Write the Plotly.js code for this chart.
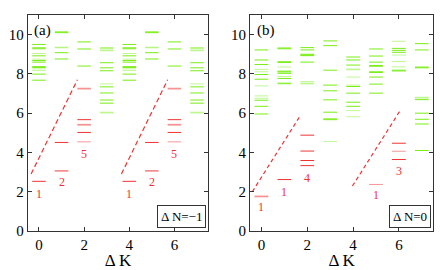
<!DOCTYPE html>
<html><head><meta charset="utf-8">
<script src="https://cdn.plot.ly/plotly-3.0.1.min.js"></script>
<style>html,body{margin:0;padding:0;background:#fff}#chart{width:443px;height:270px}</style>
</head><body><div id="chart"></div>
<script>
// ---------- DATA (index in outer array = ΔK) ----------
const deltaK = [0, 1, 2, 3, 4, 5, 6, 7];
const xTicks = [0, 2, 4, 6];
const yTicks = [0, 2, 4, 6, 8, 10];

// Panel (a): ΔN = -1
const aGreenStrong = [
  [9.50, 9.33, 9.28, 8.92, 8.68, 8.60, 8.37, 8.33, 7.99, 7.68],
  [10.14, 10.10, 9.08, 8.76],
  [9.63, 9.27, 8.40],
  [9.32, 8.57, 8.31, 8.16, 7.34, 7.03, 6.67, 6.51],
  [9.50, 9.33, 9.28, 8.92, 8.68, 8.60, 8.37, 8.33, 7.99, 7.68],
  [10.14, 10.10, 9.08, 8.76],
  [9.63, 9.27, 8.40],
  [9.32, 8.57, 8.31, 8.16, 7.34, 7.03, 6.67, 6.51]
];
const aGreenWeak = [
  [9.04, 8.75, 8.26, 8.17],
  [9.36, 9.33],
  [],
  [9.22, 9.18, 7.49, 6.05, 6.01],
  [9.04, 8.75, 8.26, 8.17],
  [9.36, 9.33],
  [],
  [9.22, 9.18, 7.49, 6.05, 6.01]
];
const aRedStrong = [
  [2.53], [4.51], [5.67, 5.02], [],
  [2.53], [4.51], [5.67, 5.02], []
];
const aRedWeak = [
  [], [3.08, 3.04], [7.27, 7.23, 5.43, 5.39, 4.54], [],
  [], [3.08, 3.04], [7.27, 7.23, 5.43, 5.39, 4.54], []
];
const aDashX = [[-0.35, 1.70], [3.65, 5.70]];
const aDashY = [[2.90, 7.70], [2.90, 7.70]];
const aLabelText = ["1", "2", "5", "1", "2", "5"];
const aLabelK = [0, 1, 2, 4, 5, 6];
const aLabelE = [1.9, 2.5, 3.9, 1.9, 2.5, 3.9];

// Panel (b): ΔN = 0
const bGreenStrong = [
  [9.22, 8.71, 8.48, 7.97, 7.73, 6.66, 6.35, 5.96],
  [9.32, 9.28, 8.62, 8.58, 8.14, 8.10, 8.03, 7.77, 7.50],
  [9.34, 9.22, 9.00, 8.96, 8.93, 8.60],
  [9.68, 9.44, 8.19, 7.43, 7.14, 6.68, 6.05, 5.71, 5.67],
  [8.86, 8.71, 8.45, 7.36, 7.02, 6.56, 6.35],
  [9.27, 8.91, 8.60, 8.43, 8.39, 8.11, 8.07, 7.84, 7.48, 7.02],
  [9.30, 9.20, 9.10, 8.19, 8.15],
  [9.54, 9.22, 8.35, 8.31, 6.69, 6.00, 5.69, 5.45, 4.10]
];
const bGreenWeak = [
  [8.23, 8.11, 7.39, 6.88, 6.76],
  [8.35, 7.87, 7.55],
  [7.61, 7.53, 7.49],
  [4.56],
  [8.25, 8.21, 7.84, 7.43, 6.13, 5.82],
  [],
  [9.66, 8.96, 8.63, 8.36],
  [6.81, 6.77]
];
const bRedStrong = [
  [], [2.62], [4.88, 3.59, 3.33], [],
  [], [], [4.47, 3.64], []
];
const bRedWeak = [
  [1.78, 1.74], [], [4.09, 4.05], [],
  [], [2.37], [4.06], []
];
const bDashX = [[-0.40, 1.72], [3.97, 6.09]];
const bDashY = [[2.00, 5.92], [2.29, 6.20]];
const bLabelText = ["1", "1", "4", "1", "3"];
const bLabelK = [0, 1, 2, 5, 6];
const bLabelE = [1.22, 1.99, 2.7, 1.82, 3.04];

const panelTags = ["(a)", "(b)"];
const boxTexts = ["\u0394 N=\u22121", "\u0394 N=0"];

// ---------- BUILD ----------
const HALF = 0.3;
const SERIF = "'Liberation Serif', 'DejaVu Serif', serif";
const GREEN = "rgb(120,238,20)";
const GREEN_W = "rgba(120,238,20,0.45)";
const RED = "rgb(240,50,50)";
const RED_W = "rgba(240,50,50,0.5)";

function segTrace(levels, color, xa, ya) {
  const x = [], y = [];
  levels.forEach((col, k) => {
    col.forEach(e => { x.push(deltaK[k] - HALF, deltaK[k] + HALF, null); y.push(e, e, null); });
  });
  return {x, y, xaxis: xa, yaxis: ya, mode: "lines", type: "scatter",
    line: {color, width: 1}, hoverinfo: "skip", showlegend: false, connectgaps: false};
}
function dashTraces(dx, dy, xa, ya, dash) {
  return dx.map((xs, i) => ({x: xs, y: dy[i], xaxis: xa, yaxis: ya, mode: "lines",
    type: "scatter", line: {color: RED, width: 1.2, dash}, showlegend: false, hoverinfo: "skip"}));
}

const traces = [
  segTrace(aGreenWeak, GREEN_W, "x", "y"),
  segTrace(aGreenStrong, GREEN, "x", "y"),
  segTrace(aRedWeak, RED_W, "x", "y"),
  segTrace(aRedStrong, RED, "x", "y"),
  ...dashTraces(aDashX, aDashY, "x", "y", "5px,3px"),
  segTrace(bGreenWeak, GREEN_W, "x2", "y2"),
  segTrace(bGreenStrong, GREEN, "x2", "y2"),
  segTrace(bRedWeak, RED_W, "x2", "y2"),
  segTrace(bRedStrong, RED, "x2", "y2"),
  ...dashTraces(bDashX, bDashY, "x2", "y2", "4px,3px")
];

const annotations = [];
function addLabels(texts, ks, es, xr, yr) {
  texts.forEach((t, i) => annotations.push({x: ks[i], y: es[i], xref: xr, yref: yr, text: t,
    showarrow: false, font: {family: SERIF, size: 12, color: RED}}));
}
addLabels(aLabelText, aLabelK, aLabelE, "x", "y");
addLabels(bLabelText, bLabelK, bLabelE, "x2", "y2");
[["x", "y"], ["x2", "y2"]].forEach((r, i) => {
  annotations.push({x: -0.3, y: 10.2, xref: r[0], yref: r[1], text: panelTags[i], showarrow: false,
    xanchor: "left", yanchor: "middle", font: {family: SERIF, size: 15, color: "#000"}});
  annotations.push({x: 7.42, y: 0.15, xref: r[0], yref: r[1], text: boxTexts[i], showarrow: false,
    xanchor: "right", yanchor: "bottom", bgcolor: "#fff", bordercolor: "#333", borderwidth: 1,
    borderpad: 3, font: {family: SERIF, size: 13, color: "#000"}});
});

function xax(domain, anchor) {
  return {domain, anchor, range: [-0.5, 7.5], tickvals: xTicks, ticks: "inside", ticklen: 4,
    tickcolor: "#333", showline: true, linecolor: "#333", linewidth: 1, mirror: "ticks",
    showgrid: false, zeroline: false, tickfont: {family: SERIF, size: 15, color: "#000"},
    title: {text: "\u0394 K", font: {family: SERIF, size: 17, color: "#000"}, standoff: 3}};
}
function yax(anchor) {
  return {domain: [0, 1], anchor, range: [0, 11], tickvals: yTicks, ticks: "inside", ticklen: 4,
    tickcolor: "#333", showline: true, linecolor: "#333", linewidth: 1, mirror: "ticks",
    showgrid: false, zeroline: false, tickfont: {family: SERIF, size: 15, color: "#000"}};
}

const layout = {
  width: 443, height: 270, margin: {l: 0, r: 0, t: 15, b: 39},
  paper_bgcolor: "#fff", plot_bgcolor: "#fff", showlegend: false,
  font: {family: SERIF},
  xaxis: xax([27.7 / 443, 208.3 / 443], "y"),
  yaxis: yax("x"),
  xaxis2: xax([250 / 443, 433.3 / 443], "y2"),
  yaxis2: yax("x2"),
  annotations
};
Plotly.newPlot("chart", traces, layout, {staticPlot: true, displayModeBar: false});
</script></body></html>
